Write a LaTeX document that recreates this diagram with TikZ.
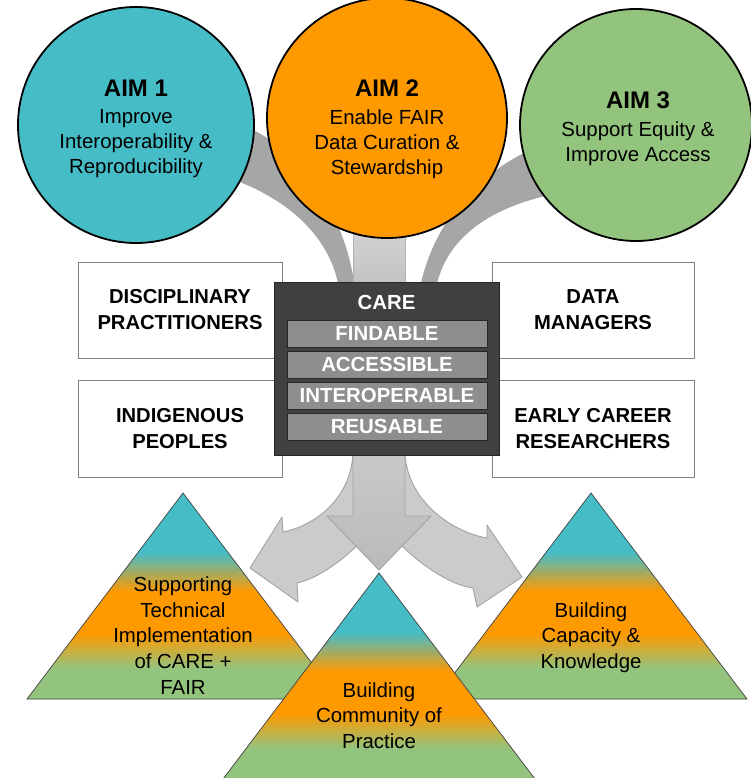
\documentclass[tikz,border=0pt]{standalone}
\usepackage{fontspec}
\setmainfont{Liberation Sans}
\usetikzlibrary{positioning}

\definecolor{aimteal}{HTML}{46BDC6}
\definecolor{aimorange}{HTML}{FF9900}
\definecolor{aimgreen}{HTML}{93C47D}
\definecolor{bandgray}{HTML}{A6A6A6}
\definecolor{arrowgray}{HTML}{CBCBCB}
\definecolor{arrowedge}{HTML}{A3A3A3}
\definecolor{careback}{HTML}{404040}
\definecolor{barfill}{HTML}{8E8E8E}
\definecolor{boxedge}{HTML}{808080}

\pgfdeclareverticalshading{pyramid}{100bp}{color(0bp)=(aimgreen); color(32.5bp)=(aimgreen);
    color(41bp)=(aimorange); color(51bp)=(aimorange); color(60.5bp)=(aimteal); color(100bp)=(aimteal)}

\newcommand{\aimtitle}[1]{{\fontsize{24}{28}\selectfont\bfseries #1}}

\begin{document}
\begin{tikzpicture}[x=1pt,y=-1pt,node distance=31pt,
        aim node/.style={circle,draw=black,line width=1.8pt,inner sep=0pt},
        aim text/.style={align=center,font=\fontsize{20.4}{25}\selectfont},
        group node/.style={rectangle,draw=boxedge,fill=white,line width=0.9pt,
            minimum width=204pt,minimum height=96pt,align=center,
            font=\fontsize{20.2}{26}\selectfont\bfseries},
        care node/.style={rectangle,draw=black!85,fill=careback,line width=0.9pt,
            minimum width=225pt,minimum height=173pt},
        fair node/.style={rectangle,draw=black!85,fill=barfill,line width=0.9pt,
            minimum width=200pt,minimum height=27pt,inner sep=0pt,text=white,
            font=\fontsize{20.4}{24}\selectfont\bfseries},
        base text/.style={align=center,font=\fontsize{20.4}{25.6}\selectfont},
        band/.style={fill=bandgray},
        stem/.style={top color=black!17,bottom color=black!24,draw=black!30,line width=0.6pt},
        fat arrow/.style={fill=arrowgray,draw=arrowedge,line width=0.9pt,line join=round},
        pyramid face/.style={shading=pyramid,draw=black!75,line width=0.7pt}]

    \path[use as bounding box,fill=white] (0,0) rectangle (751,778);

    % bands from the aims into CARE
    \fill[band] (240,125) .. controls (290,140) and (350,210) .. (356,300)
        -- (340,300) .. controls (338,250) and (300,200) .. (220,175) -- cycle;
    \fill[band] (555,140) .. controls (480,165) and (428,225) .. (418,300)
        -- (434,300) .. controls (440,245) and (480,205) .. (575,190) -- cycle;
    \draw[stem] (353,225) rectangle (405,290);

    % aims
    \node[aim node,fill=aimteal,minimum size=236pt] (aim1) at (136,125) {};
    \node[aim node,fill=aimorange,minimum size=240pt] (aim2) at (387,118) {};
    \node[aim node,fill=aimgreen,minimum size=232pt] (aim3) at (636,125) {};
    \node[aim text] (aim1 text) at (136,129) {\aimtitle{AIM 1}\\[2.5pt]Improve\\Interoperability \&\\Reproducibility};
    \node[aim text] (aim2 text) at (387,129) {\aimtitle{AIM 2}\\[2.5pt]Enable FAIR\\Data Curation \&\\Stewardship};
    \node[aim text] (aim3 text) at (638,128.5) {\aimtitle{AIM 3}\\[2.5pt]Support Equity \&\\Improve Access};

    % groups
    \node[group node] (disciplinary) at (180,310) {DISCIPLINARY\\PRACTITIONERS};
    \node[group node,minimum height=97pt] (indigenous) at (180,428.5) {INDIGENOUS\\PEOPLES};
    \node[group node,minimum width=202pt] (managers) at (593,310) {DATA\\MANAGERS};
    \node[group node,minimum width=202pt,minimum height=97pt] (early) at (593,428.5) {EARLY CAREER\\RESEARCHERS};

    % arrows out of CARE
    \draw[fat arrow] (353,450) .. controls (353,495) and (318,525) .. (283,532)
        -- (282,517) -- (250,568) -- (298,602) -- (297,583)
        .. controls (338,574) and (405,510) .. (405,450) -- cycle;
    \draw[fat arrow] (405,450) .. controls (405,500) and (452,532) .. (487,538)
        -- (487,525) -- (522,577) -- (477,607) -- (473,588)
        .. controls (432,583) and (353,515) .. (353,450) -- cycle;
    \draw[fat arrow,top color=black!21,bottom color=black!27] (353,450) -- (353,516) -- (327,516)
        -- (379,570) -- (431,516) -- (405,516) -- (405,450) -- cycle;

    % CARE + FAIR
    \node[care node] (care) at (386.5,368.5) {};
    \node[text=white,font=\fontsize{20.4}{24}\selectfont\bfseries] (care title) at (386.5,302) {CARE};
    \node[fair node] (findable) at (387,333.5) {FINDABLE};
    \node[fair node] (accessible) [below of=findable] {ACCESSIBLE};
    \node[fair node] (interoperable) [below of=accessible] {INTEROPERABLE};
    \node[fair node] (reusable) [below of=interoperable] {REUSABLE};

    % outcomes
    \draw[pyramid face] (183,493) -- (339,699) -- (27,699) -- cycle;
    \node[base text] (technical) at (183,635.5) {Supporting\\Technical\\Implementation\\of CARE +\\FAIR};
    \draw[pyramid face] (591,493) -- (747,699) -- (435,699) -- cycle;
    \node[base text] (capacity) at (591,637.5) {Building\\Capacity \&\\Knowledge};
    \draw[pyramid face] (379,573) -- (535,779) -- (223,779) -- cycle;
    \node[base text] (community) at (379,715.5) {Building\\Community of\\Practice};
\end{tikzpicture}
\end{document}
